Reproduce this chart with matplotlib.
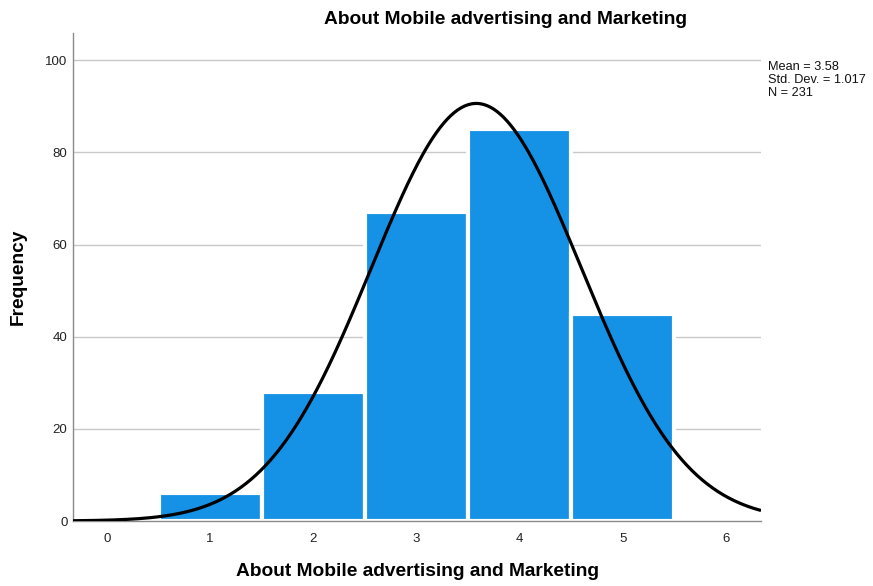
import numpy as np
import matplotlib
matplotlib.use("Agg")
import matplotlib.pyplot as plt

plt.rcParams['font.family'] = ['Liberation Sans', 'DejaVu Sans']

categories = [1, 2, 3, 4, 5]
frequencies = [6, 28, 67, 85, 45]
mean = 3.58
std = 1.017
n = 231
xticks = [0, 1, 2, 3, 4, 5, 6]
yticks = [0, 20, 40, 60, 80, 100]
title = "About Mobile advertising and Marketing"

fig = plt.figure(figsize=(8.73, 5.86), dpi=100)
ax = fig.add_axes([73/873, 1-521/586, (761-73)/873, (521-33)/586])

ax.bar(categories, frequencies, width=1.0, color='#1591e6', edgecolor='white',
       linewidth=3.0, zorder=2)

xlo, xhi = -0.33, 6.34
xs = np.linspace(xlo, xhi, 400)
ys = n * 1.0 / (std * np.sqrt(2*np.pi)) * np.exp(-0.5*((xs-mean)/std)**2)
ax.plot(xs, ys, color='black', linewidth=2.3, zorder=3, solid_capstyle='butt')

ax.set_xlim(xlo, xhi)
ax.set_ylim(0, 105.9)
ax.set_xticks(xticks)
ax.set_yticks(yticks)
ax.tick_params(length=0, labelsize=9.5, colors='#222222')
ax.tick_params(axis='y', pad=4)
ax.tick_params(axis='x', pad=9)
for y in yticks[1:]:
    ax.axhline(y, color='#c8c8c8', linewidth=1.0, zorder=1)
for s in ['top', 'right']:
    ax.spines[s].set_visible(False)
ax.spines['left'].set_color('#8a8a8a')
ax.spines['bottom'].set_color('#8a8a8a')
ax.spines['left'].set_linewidth(1.0)
ax.spines['bottom'].set_linewidth(1.0)

ax.set_xlabel(title, fontsize=13.8, fontweight='bold')
ax.xaxis.set_label_coords(0.5, -(572-521)/488)
ax.xaxis.label.set_va('center')
ax.set_ylabel("Frequency", fontsize=13.8, fontweight='bold')
ax.yaxis.set_label_coords(-(73-18)/688, 0.5)
ax.yaxis.label.set_va('center')
fig.text(505/873, 1-19/586, title, fontsize=13.8, fontweight='bold',
         ha='center', va='center')
fig.text(768/873, 1-61/586,
         f"Mean = {mean:.2f}\nStd. Dev. = {std:.3f}\nN = {n}",
         fontsize=9.2, ha='left', va='top', linespacing=1.1, color='#111111')

fig.savefig("out.png", dpi=100, facecolor='white')
